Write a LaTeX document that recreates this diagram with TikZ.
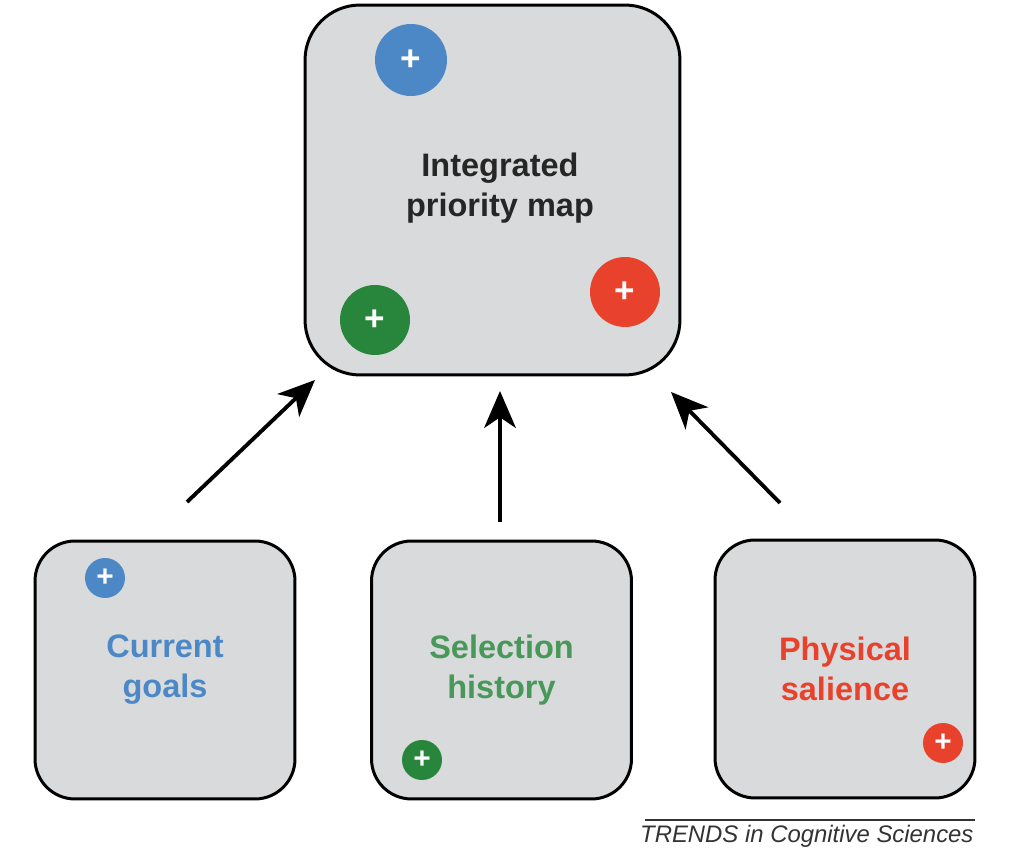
\documentclass[tikz,border=0pt]{standalone}
\usepackage{fontspec}
\setmainfont{Liberation Sans}
\usepackage{xcolor}
\usetikzlibrary{arrows.meta}

\definecolor{mapgray}{RGB}{217,218,219}
\definecolor{goalblue}{RGB}{76,136,198}
\definecolor{histgreen}{RGB}{40,134,60}
\definecolor{salred}{RGB}{232,66,44}

\begin{document}
\begin{tikzpicture}[x=0.02cm,y=-0.02cm,line width=1.7pt,
    bigbox/.style={draw,rectangle,rounded corners=1.1cm,fill=mapgray,minimum width=7.5cm,minimum height=7.4cm,align=center},
    smallbox/.style={draw,rectangle,rounded corners=0.8cm,fill=mapgray,minimum width=5.2cm,minimum height=5.16cm,align=center},
    boxfont/.style={font=\fontsize{18.5}{22.7}\selectfont\bfseries},
    plusdot/.style={circle,inner sep=0pt,text=white,font=\fontsize{#1}{#1}\selectfont\bfseries},
    flow/.style={-{Stealth[length=21pt,width=18pt,inset=6pt]},line width=2.2pt}]
      \useasboundingbox (0,0) rectangle (1012,864);

      % priority map
      \node [bigbox] (map) at (492.5,190) {};
      \node [boxfont,align=center,text=black!85] (maptext) at (500,188) {Integrated\\priority map};
      \node [plusdot=20,fill=goalblue,minimum size=1.44cm] (mapblue) at (411,60) {+};
      \node [plusdot=20,fill=histgreen,minimum size=1.4cm] (mapgreen) at (375,320) {+};
      \node [plusdot=20,fill=salred,minimum size=1.4cm] (mapred) at (625,292) {+};

      % sources
      \node [smallbox,boxfont,text=goalblue] (goals) at (165,670) {Current\\goals};
      \node [smallbox,boxfont,text=histgreen!85!white] (history) at (501.5,670) {Selection\\history};
      \node [smallbox,boxfont,text=salred] (salience) at (845,669) {Physical\\salience};
      \node [plusdot=17,fill=goalblue,minimum size=0.8cm] (goalsdot) at (105,578) {+};
      \node [plusdot=17,fill=histgreen,minimum size=0.8cm] (historydot) at (422,760) {+};
      \node [plusdot=17,fill=salred,minimum size=0.8cm] (saliencedot) at (943,743) {+};

      \coordinate (g1) at (187,502);
      \coordinate (g2) at (315,380);
      \coordinate (h1) at (500,522);
      \coordinate (h2) at (500,391);
      \coordinate (s1) at (780,503);
      \coordinate (s2) at (671,392);
      \draw [flow] (g1) -- (g2);
      \draw [flow] (h1) -- (h2);
      \draw [flow] (s1) -- (s2);

      \node [anchor=base east,inner sep=0pt,text=black!80,font=\fontsize{13.6}{13.6}\selectfont\itshape] (journal) at (975,843) {TRENDS in Cognitive Sciences};
      \draw [line width=0.7pt,black!80] (645,820) -- (975,820);
    \end{tikzpicture}
\end{document}
